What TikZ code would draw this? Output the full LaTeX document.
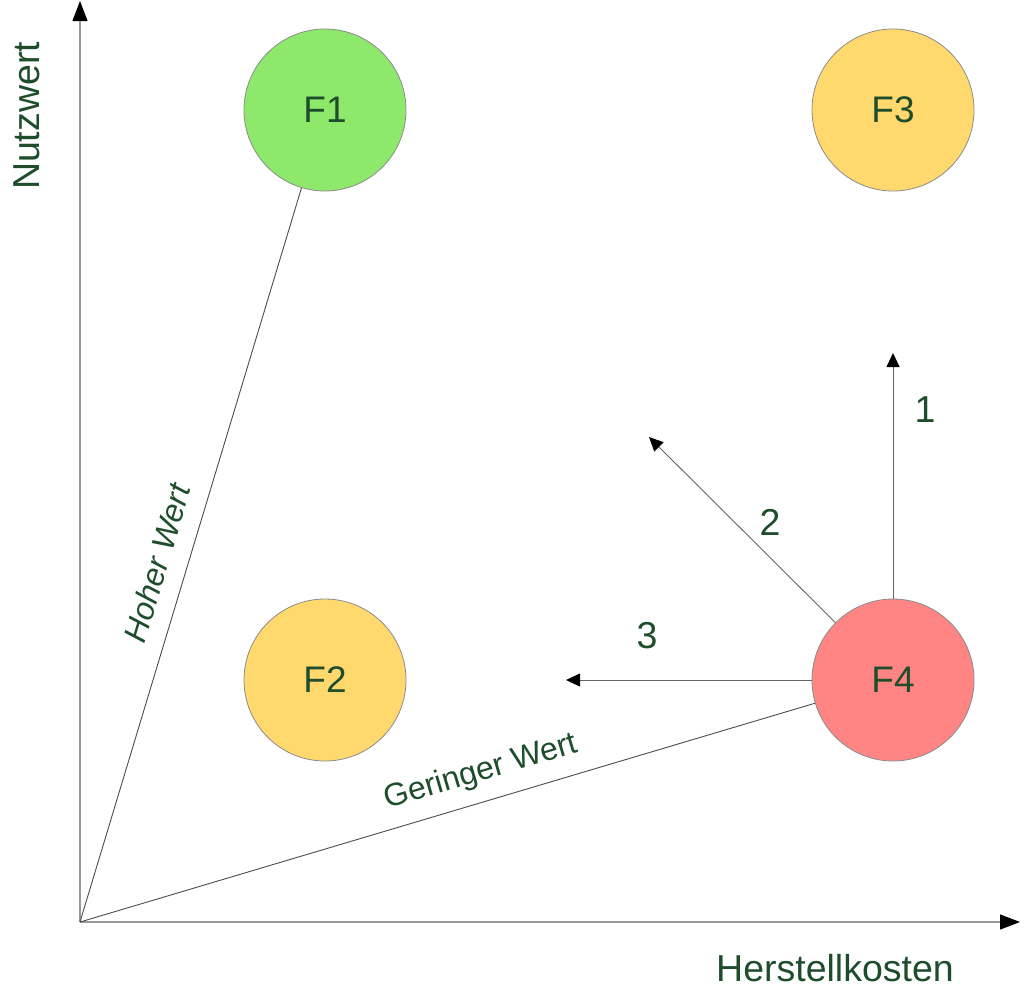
\documentclass[tikz,border=0pt]{standalone}
\usepackage{fontspec}
\setmainfont{Liberation Sans}
\usetikzlibrary{arrows.meta}
\definecolor{txtgreen}{HTML}{1E4D2B}
\definecolor{fgreen}{HTML}{8EE86B}
\definecolor{fyellow}{HTML}{FFD86E}
\definecolor{fred}{HTML}{FF8585}
\begin{document}
\begin{tikzpicture}[x=1pt,y=-1pt,
  feat/.style={circle,minimum size=162pt,inner sep=0pt,draw=black!45,line width=0.8pt,
    text=txtgreen,font=\fontsize{37}{40}\selectfont},
  axis/.style={draw=black!40,line width=1.2pt,-{Triangle[length=20pt,width=15pt,black]}},
  link/.style={draw=black!70,line width=0.9pt},
  move/.style={draw=black!60,line width=0.9pt,-{Triangle[length=14pt,width=13pt,black]}},
  lbl/.style={text=txtgreen,font=\fontsize{37.5}{40}\selectfont,inner sep=0pt},
  wlbl/.style={text=txtgreen,font=\fontsize{32}{34}\selectfont,inner sep=0pt}]
\useasboundingbox (0,0) rectangle (1024,994);
\coordinate (o) at (80,922);
\coordinate (ytip) at (80,1);
\coordinate (xtip) at (1020,922);
\draw[axis] (o) -- (ytip);
\draw[axis] (o) -- (xtip);
\node[feat,fill=fgreen] (f1) at (325,110) {F1};
\node[feat,fill=fyellow] (f3) at (893,110) {F3};
\node[feat,fill=fyellow] (f2) at (325,680) {F2};
\node[feat,fill=fred] (f4) at (893,680) {F4};
\draw[link] (o) -- (f1);
\draw[link] (o) -- (f4);
\coordinate (a1) at (893,353);
\coordinate (a2) at (649,437);
\coordinate (a3) at (566,680);
\draw[move] (f4) -- (a1);
\draw[move] (f4) -- (a2);
\draw[move] (f4) -- (a3);
\node[lbl] (l1) at (925,410) {1};
\node[lbl] (l2) at (770,522) {2};
\node[lbl] (l3) at (647,636) {3};
\node[lbl,rotate=90] (ny) at (27,116) {Nutzwert};
\node[lbl] (nx) at (835,968) {Herstellkosten};
\node[wlbl,rotate=73.2,font=\fontsize{32}{34}\selectfont\itshape] (hw) at (157,563) {Hoher Wert};
\node[wlbl,rotate=16.5] (gw) at (481,772) {Geringer Wert};
\end{tikzpicture}
\end{document}
